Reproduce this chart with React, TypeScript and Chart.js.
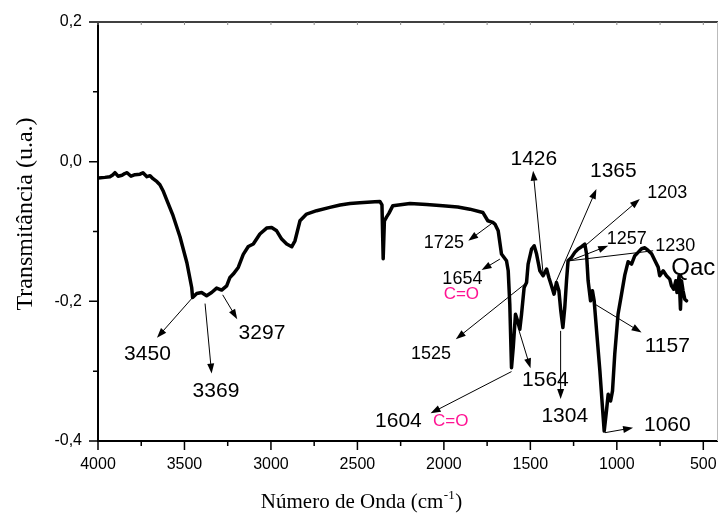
import React, { useEffect, useRef } from "react";
import { Chart, registerables } from "chart.js";

Chart.register(...registerables);

// Wavenumbers (cm^-1) and transmittance (u.a.)
const WAVENUMBER = [
  3998, 3960, 3931, 3915, 3902, 3884, 3861, 3845, 3832, 3809, 3786, 3757, 3740, 3717, 3699, 3682,
  3659, 3642, 3624, 3601, 3566, 3526, 3486, 3458, 3453, 3429, 3401, 3372, 3343, 3314, 3285, 3256,
  3237, 3218, 3189, 3160, 3131, 3102, 3064, 3025, 2996, 2967, 2938, 2909, 2880, 2861, 2832, 2794,
  2736, 2659, 2600, 2543, 2486, 2399, 2370, 2358, 2351, 2344, 2331, 2318, 2295, 2196, 2100, 2006,
  1920, 1850, 1775, 1746, 1717, 1705, 1686, 1667, 1638, 1628, 1619, 1609, 1599, 1586, 1574, 1561,
  1551, 1536, 1522, 1513, 1493, 1478, 1464, 1445, 1426, 1406, 1393, 1378, 1363, 1349, 1335, 1324,
  1312, 1301, 1291, 1282, 1262, 1243, 1224, 1204, 1185, 1175, 1166, 1152, 1141, 1131, 1117, 1098,
  1083, 1073, 1060, 1050, 1036, 1025, 1012, 993, 973, 954, 935, 915, 896, 877, 857, 838,
  819, 799, 780, 761, 752, 732, 713, 694, 684, 671, 659, 652, 640, 632, 626, 617,
  607, 597,
];
const TRANSMITTANCE = [
  -0.0234, -0.0225, -0.0215, -0.019, -0.0158, -0.0208, -0.0194, -0.017, -0.0158, -0.0208, -0.0186, -0.0179, -0.0158, -0.0215, -0.0201, -0.0244,
  -0.0287, -0.033, -0.0416, -0.0559, -0.0774, -0.1075, -0.1448, -0.1806, -0.1946, -0.1888, -0.1874, -0.1921, -0.1874, -0.1811, -0.1839, -0.1778,
  -0.1658, -0.161, -0.1515, -0.1328, -0.1215, -0.1179, -0.1036, -0.0951, -0.0942, -0.099, -0.1109, -0.118, -0.1219, -0.1133, -0.0846, -0.075,
  -0.0702, -0.0655, -0.062, -0.0598, -0.0588, -0.0574, -0.057, -0.062, -0.139, -0.085, -0.079, -0.074, -0.063, -0.0598, -0.0615, -0.0631,
  -0.065, -0.068, -0.0727, -0.0846, -0.087, -0.0893, -0.0989, -0.1323, -0.1419, -0.1563, -0.2035, -0.295, -0.2663, -0.2184, -0.228, -0.2399,
  -0.2184, -0.1802, -0.173, -0.1467, -0.1251, -0.1204, -0.1323, -0.1563, -0.1634, -0.1538, -0.1658, -0.1777, -0.1897, -0.173, -0.1849, -0.2136,
  -0.2376, -0.209, -0.1706, -0.1419, -0.1371, -0.1299, -0.1251, -0.1218, -0.118, -0.1323, -0.1706, -0.1993, -0.1849, -0.1993, -0.2423, -0.2996,
  -0.3523, -0.3857, -0.357, -0.3331, -0.3427, -0.3283, -0.2757, -0.2186, -0.19, -0.1625, -0.1434, -0.1467, -0.1347, -0.1299, -0.1247, -0.1233,
  -0.1271, -0.1319, -0.1415, -0.151, -0.1634, -0.1563, -0.1634, -0.1682, -0.1778, -0.1826, -0.1706, -0.1874, -0.1634, -0.2113, -0.1706, -0.1849,
  -0.1969, -0.1993,
];

const X_TICKS = [4000, 3500, 3000, 2500, 2000, 1500, 1000, 500];
const X_MINOR = [3750, 3250, 2750, 2250, 1750, 1250, 750];
const Y_TICKS = [-0.4, -0.2, 0, 0.2];
const Y_MINOR = [-0.3, -0.1, 0.1];

// Peak annotation arrows: [fromWavenumber, fromT, toWavenumber, toT, hasHead]
const ARROWS: [number, number, number, number, boolean][] = [
  [3453, -0.1946, 3659, -0.2523, true],
  [3381, -0.2032, 3343, -0.3035, true],
  [3279, -0.1907, 3195, -0.2255, true],
  [1715, -0.087, 1859, -0.1133, true],
  [1676, -0.1395, 1782, -0.1553, true],
  [1532, -0.1753, 1931, -0.2542, true],
  [1609, -0.3006, 2077, -0.3603, true],
  [1565, -0.2423, 1499, -0.2958, true],
  [1325, -0.2423, 1325, -0.3398, true],
  [1069, -0.3881, 906, -0.381, true],
  [1127, -0.204, 857, -0.2447, true],
  [1426, -0.161, 1484, -0.0129, true],
  [1349, -0.1706, 1118, -0.0391, true],
  [1195, -0.1229, 867, -0.0535, true],
  [1272, -0.1419, 1050, -0.1204, true],
  [1272, -0.1419, 790, -0.1276, false],
];

// Peak labels: [text, wavenumber, T, kind]
const LABELS: [string, number, number, string][] = [
  ["3450", 3714, -0.2738, "big"],
  ["3369", 3318, -0.3262, "big"],
  ["3297", 3052, -0.243, "big"],
  ["1725", 2000, -0.1147, "small"],
  ["1654", 1893, -0.1656, "small"],
  ["C=O", 1899, -0.1885, "note"],
  ["1525", 2075, -0.2731, "small"],
  ["1604", 2263, -0.3699, "big"],
  ["C=O", 1960, -0.3692, "note"],
  ["1564", 1413, -0.3111, "big"],
  ["1304", 1301, -0.3627, "big"],
  ["1157", 708, -0.2624, "big"],
  ["1060", 708, -0.3742, "big"],
  ["1426", 1480, 0.0057, "big"],
  ["1365", 1020, -0.0115, "big"],
  ["1203", 708, -0.0423, "small"],
  ["1257", 942, -0.109, "small"],
  ["1230", 662, -0.1183, "small"],
  ["Qac", 558, -0.1498, "title"],
];

const LABEL_STYLE: Record<string, { size: number; color: string }> = {
  big: { size: 21, color: "#000" },
  small: { size: 18, color: "#000" },
  note: { size: 17, color: "#ff1493" },
  title: { size: 24, color: "#000" },
};

const SANS = "'Liberation Sans', Arial, sans-serif";
const SERIF = "'Liberation Serif', 'Times New Roman', serif";

const overlay = {
  id: "overlay",
  afterDraw(chart: any) {
    const { ctx, chartArea: a } = chart;
    const xs = chart.scales.x;
    const ys = chart.scales.y;
    ctx.save();

    // frame
    ctx.strokeStyle = "#000";
    ctx.lineWidth = 2;
    ctx.beginPath();
    ctx.moveTo(a.left, a.top);
    ctx.lineTo(a.left, a.bottom);
    ctx.lineTo(a.right, a.bottom);
    ctx.stroke();
    ctx.lineWidth = 1.5;
    ctx.beginPath();
    ctx.moveTo(a.left, a.top);
    ctx.lineTo(a.right, a.top);
    ctx.stroke();
    ctx.strokeStyle = "#bbb";
    ctx.lineWidth = 1;
    ctx.beginPath();
    ctx.moveTo(a.right - 0.5, a.top);
    ctx.lineTo(a.right - 0.5, a.bottom);
    ctx.stroke();

    // ticks
    ctx.strokeStyle = "#000";
    ctx.lineWidth = 1.5;
    ctx.beginPath();
    X_TICKS.forEach((v) => {
      const p = xs.getPixelForValue(v);
      ctx.moveTo(p, a.bottom);
      ctx.lineTo(p, a.bottom + 9);
    });
    X_MINOR.forEach((v) => {
      const p = xs.getPixelForValue(v);
      ctx.moveTo(p, a.bottom);
      ctx.lineTo(p, a.bottom + 5);
    });
    Y_TICKS.forEach((v) => {
      const p = ys.getPixelForValue(v);
      ctx.moveTo(a.left, p);
      ctx.lineTo(a.left - 9, p);
    });
    Y_MINOR.forEach((v) => {
      const p = ys.getPixelForValue(v);
      ctx.moveTo(a.left, p);
      ctx.lineTo(a.left - 5, p);
    });
    ctx.stroke();
    ctx.lineWidth = 1;
    ctx.strokeStyle = "#888";
    ctx.beginPath();
    [...X_TICKS, ...X_MINOR].forEach((v) => {
      const p = xs.getPixelForValue(v);
      ctx.moveTo(p, a.top);
      ctx.lineTo(p, a.top + 3);
    });
    ctx.stroke();

    // arrows
    ctx.strokeStyle = "#000";
    ctx.fillStyle = "#000";
    ctx.lineWidth = 1;
    ARROWS.forEach(([x1, y1, x2, y2, head]) => {
      const px1 = xs.getPixelForValue(x1);
      const py1 = ys.getPixelForValue(y1);
      const px2 = xs.getPixelForValue(x2);
      const py2 = ys.getPixelForValue(y2);
      const ang = Math.atan2(py2 - py1, px2 - px1);
      const L = 10;
      const W = 3.5;
      const ex = head ? px2 - Math.cos(ang) * (L - 1) : px2;
      const ey = head ? py2 - Math.sin(ang) * (L - 1) : py2;
      ctx.beginPath();
      ctx.moveTo(px1, py1);
      ctx.lineTo(ex, ey);
      ctx.stroke();
      if (head) {
        const bx = px2 - Math.cos(ang) * L;
        const by = py2 - Math.sin(ang) * L;
        ctx.beginPath();
        ctx.moveTo(px2, py2);
        ctx.lineTo(bx + Math.sin(ang) * W, by - Math.cos(ang) * W);
        ctx.lineTo(bx - Math.sin(ang) * W, by + Math.cos(ang) * W);
        ctx.closePath();
        ctx.fill();
      }
    });

    // labels
    ctx.textAlign = "center";
    ctx.textBaseline = "alphabetic";
    LABELS.forEach(([t, xv, yv, kind]) => {
      const st = LABEL_STYLE[kind];
      ctx.font = `${st.size}px ${SANS}`;
      ctx.fillStyle = st.color;
      ctx.fillText(t, xs.getPixelForValue(xv), ys.getPixelForValue(yv) + st.size * 0.358);
    });

    // x axis title with superscript
    const main = "Número de Onda (cm";
    const sup = "-1";
    const end = ")";
    ctx.fillStyle = "#000";
    ctx.textAlign = "left";
    ctx.font = `21px ${SERIF}`;
    const w1 = ctx.measureText(main).width;
    const w3 = ctx.measureText(end).width;
    ctx.font = `13px ${SERIF}`;
    const w2 = ctx.measureText(sup).width;
    const total = w1 + w2 + w3 + 1;
    const cx = chart.width / 2 + 1.5;
    let sx = cx - total / 2;
    const base = 508;
    ctx.font = `21px ${SERIF}`;
    ctx.fillText(main, sx, base);
    sx += w1;
    ctx.font = `13px ${SERIF}`;
    ctx.fillText(sup, sx + 0.5, base - 9);
    sx += w2 + 1;
    ctx.font = `21px ${SERIF}`;
    ctx.fillText(end, sx, base);

    // y axis title
    ctx.save();
    ctx.translate(32, 214);
    ctx.rotate(-Math.PI / 2);
    ctx.textAlign = "center";
    ctx.font = `24px ${SERIF}`;
    ctx.fillText("Transmitância (u.a.)", 0, 0);
    ctx.restore();

    ctx.restore();
  },
};

const zeroPadding = (s: any) => {
  s.paddingLeft = 0;
  s.paddingRight = 0;
  s.paddingTop = 0;
  s.paddingBottom = 0;
};

export default function App() {
  const ref = useRef<HTMLCanvasElement | null>(null);

  useEffect(() => {
    if (!ref.current) return;
    const points = WAVENUMBER.map((w, i) => ({ x: w, y: TRANSMITTANCE[i] }));
    const chart = new Chart(ref.current, {
      type: "scatter",
      data: {
        datasets: [
          {
            data: points,
            showLine: true,
            borderColor: "#000",
            borderWidth: 3.5,
            pointRadius: 0,
            fill: false,
            tension: 0,
            borderJoinStyle: "round",
            borderCapStyle: "round",
          } as any,
        ],
      },
      options: {
        responsive: false,
        animation: false,
        devicePixelRatio: 1,
        events: [],
        layout: { padding: { top: 22, right: 2, left: 0, bottom: 0 } },
        plugins: { legend: { display: false }, tooltip: { enabled: false } },
        scales: {
          x: {
            type: "linear",
            reverse: true,
            min: 415,
            max: 4000,
            grid: { display: false, drawTicks: false },
            border: { display: false },
            afterBuildTicks: (s: any) => {
              s.ticks = X_TICKS.map((v) => ({ value: v }));
            },
            afterFit: (s: any) => {
              s.height = 73;
              zeroPadding(s);
            },
            ticks: {
              color: "#000",
              padding: 14,
              font: { family: SANS, size: 16 },
              maxRotation: 0,
              autoSkip: false,
              callback: (v: any) => String(v),
            },
          },
          y: {
            type: "linear",
            min: -0.4,
            max: 0.2,
            grid: { display: false, drawTicks: false },
            border: { display: false },
            afterBuildTicks: (s: any) => {
              s.ticks = Y_TICKS.map((v) => ({ value: v }));
            },
            afterFit: (s: any) => {
              s.width = 98;
              zeroPadding(s);
            },
            ticks: {
              color: "#000",
              padding: 16,
              font: { family: SANS, size: 16 },
              callback: (v: any) => Number(v).toFixed(1).replace(".", ","),
            },
          },
        },
      },
      plugins: [overlay],
    });
    return () => chart.destroy();
  }, []);

  return (
    <div style={{ position: "fixed", left: 0, top: 0, width: 720, height: 514, background: "#fff" }}>
      <canvas ref={ref} width={720} height={514} style={{ display: "block" }} />
    </div>
  );
}
